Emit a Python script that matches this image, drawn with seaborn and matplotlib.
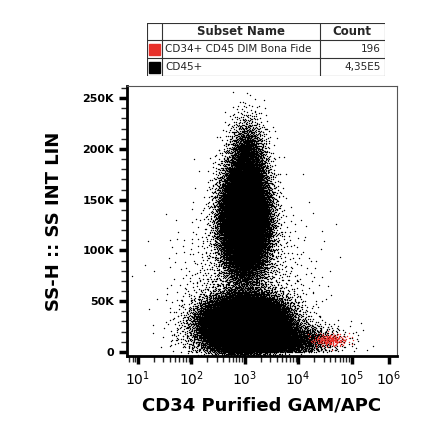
import numpy as np
import matplotlib
matplotlib.use("Agg")
import matplotlib.pyplot as plt
import seaborn as sns

# Population descriptions (log10 x centre, x sd, y centre, y sd, n points)
pop_names = ["upper", "upper_top", "lower", "tail", "halo", "red"]
pop_xc = [3.0, 3.05, 3.0, 3.4, 3.0, 4.6]
pop_xsd = [0.22, 0.17, 0.38, 0.55, 0.6, 0.17]
pop_yc = [130000, 185000, 28000, 12000, 60000, 12000]
pop_ysd = [27000, 22000, 13000, 8000, 40000, 3000]
pop_n = [22000, 2500, 28000, 6000, 1500, 196]
pop_color = ["black", "black", "black", "black", "black", "#e8302a"]

table_names = ["CD34+ CD45 DIM Bona Fide", "CD45+"]
table_counts = ["196", "4,35E5"]
table_colors = ["#e8302a", "black"]

xtick_pos = [1, 2, 3, 4, 5, 5.7]
xtick_exp = ["1", "2", "3", "4", "5", "6"]
ytick_vals = [0, 50000, 100000, 150000, 200000, 250000]
ytick_labels = ["0", "50K", "100K", "150K", "200K", "250K"]

def halton(n, base, skip=20):
    out = np.empty(n)
    for k in range(n):
        i = k + skip; f = 1.0; r = 0.0
        while i > 0:
            f /= base; r += f * (i % base); i //= base
        out[k] = r
    return out

sns.set_style("white")
fig = plt.figure(figsize=(4.4, 4.41), dpi=100)
ax = fig.add_axes([127/440, 1-356/441, 270/440, 270/441])

for j, (xc, xs, yc, ys, n, c) in enumerate(zip(pop_xc, pop_xsd, pop_yc, pop_ysd, pop_n, pop_color)):
    u1 = halton(n, 2, 20 + j*7); u2 = halton(n, 3, 20 + j*7)
    u1 = np.clip(u1, 1e-6, 1)
    r = np.sqrt(-2*np.log(u1))
    zx = r*np.cos(2*np.pi*u2); zy = r*np.sin(2*np.pi*u2)
    xs_ = xc + xs*zx
    ys_ = yc + ys*zy
    if j in (3, 4):
        ys_ = np.abs(ys_)
    sns.scatterplot(x=xs_, y=ys_, s=1.0, color=c, linewidth=0, ax=ax, zorder=3 if c != "black" else 2)

ax.set_xlim(0.8, 5.85)
ax.set_ylim(-4000, 262000)
ax.set_xticks(xtick_pos)
ax.set_xticklabels([f"$10^{{{e}}}$" for e in xtick_exp], fontsize=10)
ax.set_yticks(ytick_vals)
ax.set_yticklabels(ytick_labels, fontsize=8, fontweight="bold")
minor = []
for d in range(0, 5):
    for m in range(2, 10):
        v = d + np.log10(m)
        if 0.8 < v < 5.7: minor.append(v)
ax.set_xticks(minor, minor=True)
ax.set_yticks(np.arange(0, 262000, 10000), minor=True)
ax.tick_params(axis="both", which="major", length=6, width=2.5, direction="out", bottom=True, left=True, colors="black")
ax.tick_params(axis="both", which="minor", length=4, width=1, direction="out", bottom=True, left=True)
for s in ax.spines.values():
    s.set_linewidth(0.8); s.set_color("#555555")
ax.spines["left"].set_linewidth(2); ax.spines["left"].set_color("black")
ax.spines["bottom"].set_linewidth(2); ax.spines["bottom"].set_color("black")
ax.set_xlabel("CD34 Purified GAM/APC", fontsize=13, fontweight="bold", labelpad=6, color="black")
ax.set_ylabel("SS-H :: SS INT LIN", fontsize=13, fontweight="bold", labelpad=14, color="black")

# table
tab_ax = fig.add_axes([147/440, 1-76/441, 238/440, 53/441])
tab_ax.set_xlim(147, 385); tab_ax.set_ylim(76, 23); tab_ax.axis("off")
rows = [23, 40, 58, 76]
for y in rows:
    tab_ax.plot([147, 385], [y, y], color="#333333", lw=0.8)
for x in [147, 162, 320, 385]:
    tab_ax.plot([x, x], [23, 76], color="#333333", lw=0.8)
tab_ax.text(241, 31.5, "Subset Name", ha="center", va="center", fontsize=8.5, fontweight="bold")
tab_ax.text(352, 31.5, "Count", ha="center", va="center", fontsize=8.5, fontweight="bold")
for i, (nm, ct, col) in enumerate(zip(table_names, table_counts, table_colors)):
    yc = (rows[i+1] + rows[i+2]) / 2
    tab_ax.add_patch(plt.Rectangle((149, yc-5.5), 11, 11, color=col))
    tab_ax.text(165, yc, nm, ha="left", va="center", fontsize=7.5)
    tab_ax.text(381, yc, ct, ha="right", va="center", fontsize=7.5)

fig.savefig("out.png", dpi=100)
